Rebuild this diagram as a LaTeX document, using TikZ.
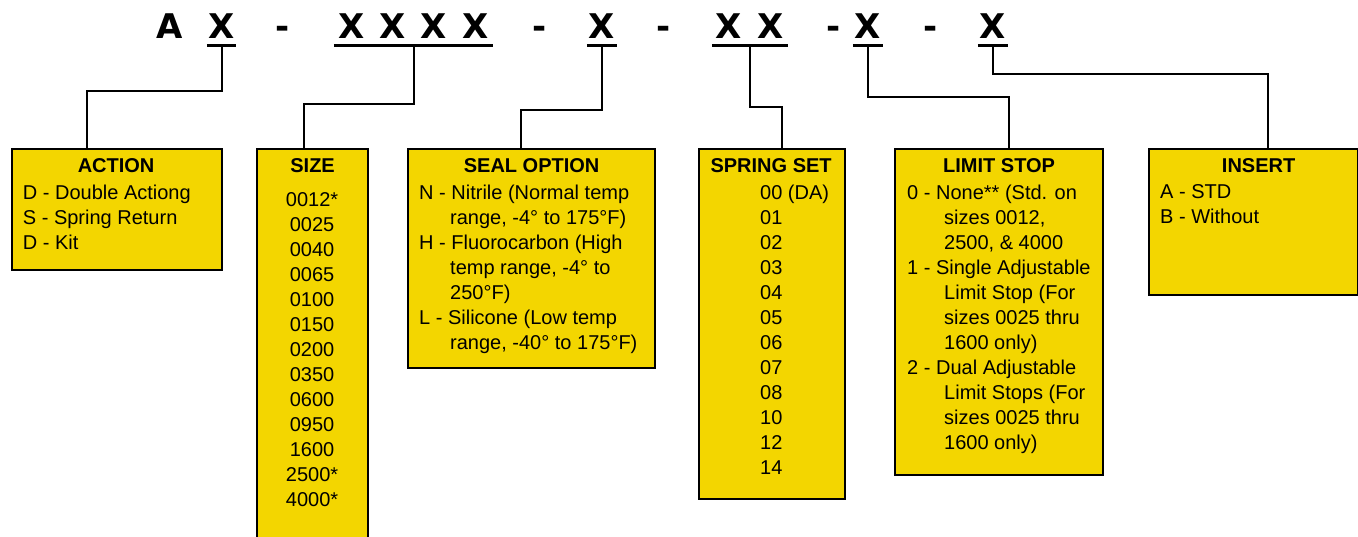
\documentclass[tikz,border=0pt]{standalone}
\usepackage{fontspec}
\setmainfont{Liberation Sans}
\newfontfamily\codefont{DejaVu Sans}
\usetikzlibrary{positioning}
\definecolor{boxyellow}{RGB}{243,214,0}
\tikzset{
optbox/.style={rectangle, draw, line width=2.2pt, fill=boxyellow, anchor=north west, inner sep=0pt},
boxtitle/.style={inner sep=0pt, font=\fontsize{20pt}{25pt}\selectfont\bfseries},
boxlist/.style={inner sep=0pt, align=left, font=\fontsize{20pt}{25pt}\selectfont},
code/.style={inner sep=0pt, anchor=base, font=\fontsize{34pt}{40pt}\selectfont\codefont\bfseries},
uline/.style={draw, line width=2.6pt},
line/.style={draw, line width=2pt}
}

\begin{document}
\begin{tikzpicture}[x=1pt, y=-1pt]
    \useasboundingbox (0,0) rectangle (1358,536);
    % Place code
    \node [code] (codeA) at (169.5,38.3) {A};
    \node [code, minimum width=29pt] (codeact) at (221.5,38.3) {X};
    \node [code] (dashone) at (282.5,38.3) {-};
    \node [code, minimum width=159pt] (codesize) at (413.5,38.3) {X\kern15pt X\kern15pt X\kern15pt X};
    \node [code] (dashtwo) at (540,38.3) {-};
    \node [code, minimum width=30pt] (codeseal) at (602,38.3) {X};
    \node [code] (dashthree) at (664,38.3) {-};
    \node [code, minimum width=76pt] (codespring) at (750,38.3) {X\kern16pt X};
    \node [code] (dashfour) at (834,38.3) {-};
    \node [code, minimum width=30pt] (codelimit) at (868,38.3) {X};
    \node [code] (dashfive) at (931,38.3) {-};
    \node [code, minimum width=30pt] (codeinsert) at (993,38.3) {X};
    % Underlines
    \foreach \c in {codeact, codesize, codeseal, codespring, codelimit, codeinsert} {
        \path [uline] ([yshift=-7.4pt]\c.base west) -- ([yshift=-7.4pt]\c.base east);
        \coordinate (ul\c) at ([yshift=-7.4pt]\c.base);
    }
    % Place boxes
    \node [optbox, minimum width=210pt, minimum height=121pt] (action) at (11,148) {};
    \node [optbox, minimum width=111pt, minimum height=400pt] (size) at (256,148) {};
    \node [optbox, minimum width=247pt, minimum height=219pt] (seal) at (407,148) {};
    \node [optbox, minimum width=146pt, minimum height=350pt] (spring) at (698,148) {};
    \node [optbox, minimum width=208pt, minimum height=326pt] (limit) at (894,148) {};
    \node [optbox, minimum width=209pt, minimum height=146pt] (insert) at (1148,148) {};
    % Titles
    \node [boxtitle, below=10.7pt of action.north, xshift=-1pt] (actiontitle) {ACTION};
    \node [boxtitle, below=10.7pt of size.north] (sizetitle) {SIZE};
    \node [boxtitle, below=10.7pt of seal.north] (sealtitle) {SEAL OPTION};
    \node [boxtitle, below=10.7pt of spring.north, xshift=-1pt] (springtitle) {SPRING SET};
    \node [boxtitle, below=10.7pt of limit.north] (limittitle) {LIMIT STOP};
    \node [boxtitle, below=10.7pt of insert.north, xshift=5pt] (inserttitle) {INSERT};
    % Lists
    \node [boxlist, below right=36.7pt and 11.7pt of action.north west] (actionlist)
        {D - Double Actiong\\S - Spring Return\\D - Kit};
    \node [boxlist, align=center, below=44.8pt of size.north, xshift=-0.5pt] (sizelist)
        {0012*\\0025\\0040\\0065\\0100\\0150\\0200\\0350\\0600\\0950\\1600\\2500*\\4000*};
    \node [boxlist, below right=36.4pt and 12pt of seal.north west] (seallist)
        {N - Nitrile (Normal temp\\
         \hspace*{31pt}range, -4° to 175°F)\\
         H - Fluorocarbon (High\\
         \hspace*{31pt}temp range, -4° to\\
         \hspace*{31pt}250°F)\\
         L - Silicone (Low temp\\
         \hspace*{31pt}range, -40° to 175°F)};
    \node [boxlist, below right=36.4pt and 62pt of spring.north west] (springlist)
        {00 (DA)\\01\\02\\03\\04\\05\\06\\07\\08\\10\\12\\14};
    \node [boxlist, below right=36.4pt and 13pt of limit.north west] (limitlist)
        {0 - None** (Std. on\\
         \hspace*{37pt}sizes 0012,\\
         \hspace*{37pt}2500, \& 4000\\
         1 - Single Adjustable\\
         \hspace*{37pt}Limit Stop (For\\
         \hspace*{37pt}sizes 0025 thru\\
         \hspace*{37pt}1600 only)\\
         2 - Dual Adjustable\\
         \hspace*{37pt}Limit Stops (For\\
         \hspace*{37pt}sizes 0025 thru\\
         \hspace*{37pt}1600 only)};
    \node [boxlist, below right=36.7pt and 12pt of insert.north west] (insertlist)
        {A - STD\\B - Without};
    % Draw edges
    \path [line] (ulcodeact) -- ++(0,45.3) -| ([xshift=76pt]action.north west);
    \path [line] (ulcodesize) -- ++(0,58.3) -| ([xshift=48pt]size.north west);
    \path [line] (ulcodeseal) -- ++(0,64.3) -| ([xshift=114pt]seal.north west);
    \path [line] (ulcodespring) -- ++(0,61.3) -| ([xshift=84pt]spring.north west);
    \path [line] (ulcodelimit) -- ++(0,51.3) -| ([xshift=115pt]limit.north west);
    \path [line] (ulcodeinsert) -- ++(0,28.3) -| ([xshift=120pt]insert.north west);
\end{tikzpicture}
\end{document}
